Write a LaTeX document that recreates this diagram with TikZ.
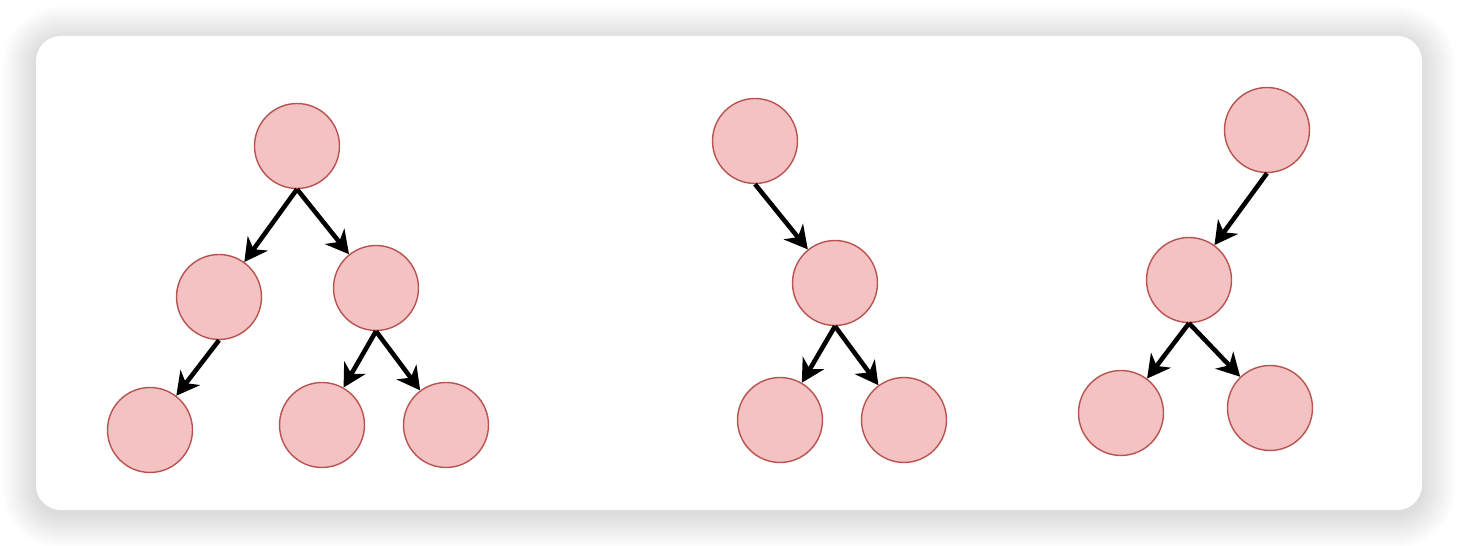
\documentclass[tikz,border=0pt]{standalone}
\usetikzlibrary{arrows.meta}
\definecolor{nodefill}{HTML}{F4C2C2}
\definecolor{nodeline}{HTML}{B85450}

\begin{document}
\begin{tikzpicture}[
x=0.02cm,
y=-0.02cm,
vertex/.style={
  draw=nodeline,
  fill=nodefill,
  circle,
  line width=0.8pt,
  inner sep=0pt,
  minimum size=1.7cm
  },
card/.style={
  fill=white,
  rounded corners=0.5cm
  },
>={Stealth[length=13pt,width=14pt,inset=4pt]}
]
\useasboundingbox (0,0) rectangle (1458,546);

% shadow and card
\foreach \s in {1,...,34}
  \fill[black,opacity=0.004,rounded corners=0.5cm+\s*0.02cm]
    (36-\s,40-\s) rectangle (1422+\s,514+\s);
\fill[card] (36,36) rectangle (1422,510);

% first tree
\node[vertex] (a) at (297,146) {};
\node[vertex] (al) at (219,297) {};
\node[vertex] (ar) at (376,288) {};
\node[vertex] (all) at (150,430) {};
\node[vertex] (arl) at (322,425) {};
\node[vertex] (arr) at (446,425) {};

% second tree
\node[vertex] (b) at (755,141) {};
\node[vertex] (br) at (835,283) {};
\node[vertex] (brl) at (780,420) {};
\node[vertex] (brr) at (904,420) {};

% third tree
\node[vertex] (c) at (1267,130) {};
\node[vertex] (cl) at (1189,280) {};
\node[vertex] (cll) at (1121,413) {};
\node[vertex] (clr) at (1270,408) {};

\foreach \p/\q in {a/al,a/ar,al/all,ar/arl,ar/arr,b/br,br/brl,br/brr,c/cl,cl/cll,cl/clr}
  \draw[->,line width=2.6pt] (\p.south) -- (\q);

\end{tikzpicture}
\end{document}
